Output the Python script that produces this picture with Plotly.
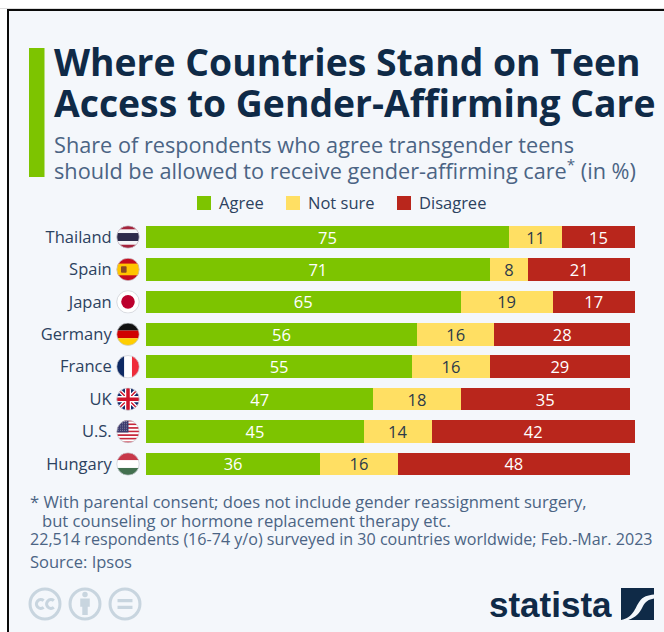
import base64
import plotly.graph_objects as go

W, H = 664, 632
FONT = "Open Sans"
NAVY = "#0f2a47"
SLATE = "#4b6484"
LABEL = "#2c4260"
ICON = "#c8d5df"

countries = ["Thailand", "Spain", "Japan", "Germany", "France", "UK", "U.S.", "Hungary"]
agree = [75, 71, 65, 56, 55, 47, 45, 36]
not_sure = [11, 8, 19, 16, 16, 18, 14, 16]
disagree = [15, 21, 17, 28, 29, 35, 42, 48]
colors = {"Agree": "#7dc400", "Not sure": "#ffdf63", "Disagree": "#b9261c"}
text_colors = {"Agree": "white", "Not sure": "#2c3a4a", "Disagree": "white"}
legend_slots = {"Agree": 197, "Not sure": 286, "Disagree": 397}


def px(x):
    return x / W


def py(y):
    return 1 - y / H


def svg_uri(body, view="0 0 100 100"):
    svg = f'<svg xmlns="http://www.w3.org/2000/svg" viewBox="{view}">{body}</svg>'
    return "data:image/svg+xml;base64," + base64.b64encode(svg.encode()).decode()


def round_flag(inner):
    return svg_uri(
        '<defs><clipPath id="c"><circle cx="50" cy="50" r="48"/></clipPath></defs>'
        f'<g clip-path="url(#c)">{inner}</g>'
        '<circle cx="50" cy="50" r="48" fill="none" stroke="#c9ccd2" stroke-width="3"/>'
    )


def bands(*rows):
    return "".join(f'<rect x="0" y="{y}" width="100" height="{h}" fill="{c}"/>' for y, h, c in rows)


us_stripes = "".join(
    f'<rect x="0" y="{i * 100 / 13:.1f}" width="100" height="7.7" fill="{"#c8283c" if i % 2 == 0 else "#ffffff"}"/>'
    for i in range(13)
)
us_stars = "".join(
    f'<circle cx="{x}" cy="{y}" r="1.7" fill="white"/>' for y in (8, 17, 26, 35, 44) for x in (8, 17, 26, 35, 44)
)

flags = {
    "Thailand": round_flag(bands((0, 100, "#a5243d"), (17, 66, "#f4f5f8"), (33, 34, "#2d2a4a"))),
    "Spain": round_flag(
        bands((0, 100, "#c60b1e"), (25, 50, "#ffc400"))
        + '<rect x="20" y="36" width="24" height="28" rx="4" fill="#8a4a20"/>'
    ),
    "Japan": round_flag('<rect width="100" height="100" fill="white"/><circle cx="50" cy="50" r="29" fill="#bc002d"/>'),
    "Germany": round_flag(bands((0, 34, "#111111"), (34, 33, "#d00000"), (67, 33, "#ffce00"))),
    "France": round_flag(
        '<rect width="34" height="100" fill="#0f2a63"/>'
        '<rect x="34" width="33" height="100" fill="white"/>'
        '<rect x="67" width="33" height="100" fill="#ef2b3a"/>'
    ),
    "UK": round_flag(
        '<rect width="100" height="100" fill="#12296b"/>'
        '<path d="M0 0L100 100M100 0L0 100" stroke="white" stroke-width="17"/>'
        '<path d="M0 0L100 100M100 0L0 100" stroke="#cf142b" stroke-width="6"/>'
        '<path d="M50 0V100M0 50H100" stroke="white" stroke-width="26"/>'
        '<path d="M50 0V100M0 50H100" stroke="#cf142b" stroke-width="15"/>'
    ),
    "U.S.": round_flag(us_stripes + '<rect width="52" height="54" fill="#3c3b6e"/>' + us_stars),
    "Hungary": round_flag(bands((0, 34, "#c8384a"), (34, 33, "white"), (67, 33, "#43704f"))),
}

statista_mark = svg_uri(
    '<rect width="100" height="100" fill="#0f2a47"/>'
    '<path d="M0 100 C38 92 42 62 56 42 C66 26 82 22 100 20 L100 33 C84 36 74 42 66 58 '
    'C56 80 44 92 22 100 Z" fill="#f4f7fb"/>'
)

cc_icon = svg_uri(
    f'<circle cx="50" cy="50" r="44" fill="none" stroke="{ICON}" stroke-width="9"/>'
    f'<path d="M46 40A13 13 0 1 0 46 60M76 40A13 13 0 1 0 76 60" fill="none" stroke="{ICON}" stroke-width="9"/>'
)
by_icon = svg_uri(
    f'<circle cx="50" cy="50" r="44" fill="none" stroke="{ICON}" stroke-width="9"/>'
    f'<circle cx="50" cy="22" r="8" fill="{ICON}"/>'
    f'<path d="M36 34H64V58H58V82H42V58H36Z" fill="{ICON}"/>'
)
nd_icon = svg_uri(
    f'<circle cx="50" cy="50" r="44" fill="none" stroke="{ICON}" stroke-width="9"/>'
    f'<path d="M28 40H72M28 60H72" stroke="{ICON}" stroke-width="10"/>'
)

fig = go.Figure()
for name, values in (("Agree", agree), ("Not sure", not_sure), ("Disagree", disagree)):
    fig.add_trace(
        go.Bar(
            name=name,
            y=countries,
            x=values,
            orientation="h",
            width=0.7,
            marker=dict(color=colors[name], line=dict(width=0)),
            text=values,
            textposition="inside",
            insidetextanchor="middle",
            textangle=0,
            constraintext="none",
            textfont=dict(family=FONT, size=16.5, color=text_colors[name]),
            hoverinfo="skip",
            showlegend=False,
        )
    )


def note(text, x, y, size, color, family=FONT, xanchor="left"):
    return dict(
        text=text, x=px(x), y=py(y), xref="paper", yref="paper", xanchor=xanchor, yanchor="middle",
        showarrow=False, align="left", font=dict(family=family, size=size, color=color),
    )


annotations = [
    note("<b>Where Countries Stand on Teen</b>", 52, 62, 37.3, NAVY),
    note("<b>Access to Gender-Affirming Care</b>", 52, 103, 37.3, NAVY),
    note("Share of respondents who agree transgender teens", 52, 144, 21.7, SLATE),
    note("should be allowed to receive gender-affirming care<sup>*</sup> (in %)", 52, 169, 21.7, SLATE),
    note("* With parental consent; does not include gender reassignment surgery,", 28, 501, 16.6, SLATE),
    note("but counseling or hormone replacement therapy etc.", 40, 520, 16.6, SLATE),
    note("22,514 respondents (16-74 y/o) surveyed in 30 countries worldwide; Feb.-Mar. 2023", 28, 539, 16.1, SLATE),
    note("Source: Ipsos", 28, 561, 16.5, SLATE),
    note("<b>statista</b>", 487, 604, 35, NAVY, family="Liberation Sans"),
]

shapes = [
    dict(type="rect", xref="paper", yref="paper", x0=px(0), x1=px(W), y0=py(8), y1=py(9),
         fillcolor="#dddddd", line_width=0, layer="below"),
    dict(type="rect", xref="paper", yref="paper", x0=px(7), x1=px(W), y0=py(9), y1=py(H),
         fillcolor="#0a0a0a", line_width=0, layer="below"),
    dict(type="rect", xref="paper", yref="paper", x0=px(9), x1=px(W), y0=py(11), y1=py(H),
         fillcolor="#f4f7fb", line_width=0, layer="below"),
    dict(type="rect", xref="paper", yref="paper", x0=px(29), x1=px(44.5), y0=py(48), y1=py(177),
         fillcolor="#7dc400", line_width=0, layer="below"),
]

# Legend row: one swatch and one caption per response option
for name, left in legend_slots.items():
    shapes.append(dict(type="rect", xref="paper", yref="paper", x0=px(left), x1=px(left + 14),
                       y0=py(196), y1=py(210), fillcolor=colors[name], line_width=0, layer="below"))
    annotations.append(note(name, left + 20, 203, 16.5, LABEL))

images = [
    dict(source=flags[c], xref="paper", yref="y", x=px(128), y=i, sizex=px(24), sizey=0.72,
         xanchor="center", yanchor="middle", sizing="contain", layer="above")
    for i, c in enumerate(countries)
]
for src, cx in ((cc_icon, 45), (by_icon, 85), (nd_icon, 125)):
    images.append(dict(source=src, xref="paper", yref="paper", x=px(cx), y=py(604), sizex=px(34), sizey=34 / H,
                       xanchor="center", yanchor="middle", sizing="contain", layer="above"))
images.append(dict(source=statista_mark, xref="paper", yref="paper", x=px(621), y=py(588), sizex=px(33), sizey=32 / H,
                   xanchor="left", yanchor="top", sizing="stretch", layer="above"))

fig.update_layout(
    width=W,
    height=H,
    autosize=False,
    margin=dict(l=0, r=0, t=0, b=0),
    barmode="stack",
    paper_bgcolor="white",
    plot_bgcolor="rgba(0,0,0,0)",
    font=dict(family=FONT),
    showlegend=False,
    xaxis=dict(domain=[px(146), 1], range=[0, (W - 146) / 4.84], visible=False, fixedrange=True),
    yaxis=dict(
        domain=[py(480.2), py(220.8)],
        type="category",
        categoryorder="array",
        categoryarray=countries,
        range=[7.5, -0.5],
        showline=False,
        showgrid=False,
        zeroline=False,
        ticks="outside",
        ticklen=30,
        tickcolor="rgba(0,0,0,0)",
        tickfont=dict(family=FONT, size=16.5, color=LABEL),
        fixedrange=True,
    ),
    annotations=annotations,
    shapes=shapes,
    images=images,
)

fig.write_html("out.html", config=dict(displayModeBar=False))
